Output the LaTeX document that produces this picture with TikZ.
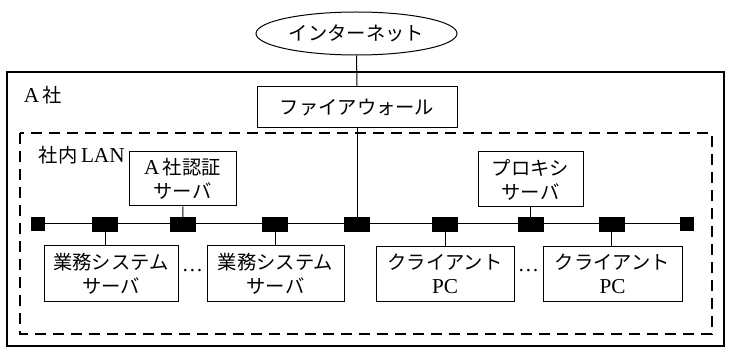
\documentclass[tikz,border=0pt]{standalone}
\usepackage{fontspec}
\setmainfont{Liberation Serif}[Scale=1.1]
\newfontfamily\jp{Noto Sans CJK JP}
\usetikzlibrary{shapes.geometric}
\begin{document}
\begin{tikzpicture}[x=1pt,y=-1pt,
  txt/.style={font=\fontsize{19.3}{24}\selectfont},
  box/.style={txt, draw, line width=1pt, inner sep=0pt, align=center, anchor=center},
  sw/.style={draw=black, fill=black, inner sep=0pt, minimum width=25pt, minimum height=14pt},
  swend/.style={draw=black, fill=black, inner sep=0pt, minimum width=13pt, minimum height=13pt},
  link/.style={line width=1pt}]
\useasboundingbox (0,0) rectangle (731,358);
% frames
\draw[line width=1.1pt] (7,72) rectangle (724,346);
\draw[line width=1.1pt, dash pattern=on 11pt off 7pt] (20,133) rectangle (712,334);
\node[txt, anchor=west] (lA) at (20,95) {A\,{\jp 社}};
\node[txt, anchor=west] (lL) at (35,155) {{\jp 社内}\,LAN};
% internet + firewall
\node[draw, line width=1pt, ellipse, minimum width=201pt, minimum height=43pt, inner sep=0pt, txt] (inet) at (356.5,33.5) {\jp インターネット};
\node[box, minimum width=200pt, minimum height=41pt] (fw) at (357,107.5) {\jp ファイアウォール};
% servers above bus
\node[box, minimum width=107pt, minimum height=54pt] (auth) at (182.5,179) {A\,{\jp 社認証}\\{\jp サーバ}};
\node[box, minimum width=105pt, minimum height=55pt] (proxy) at (530.5,179.5) {{\jp プロキシ}\\{\jp サーバ}};
% bus switches
\node[swend] (e1) at (38,224) {};
\node[sw] (s1) at (105,224) {};
\node[sw] (s2) at (183,224) {};
\node[sw] (s3) at (275,224) {};
\node[sw] (s4) at (357,224) {};
\node[sw] (s5) at (445,224) {};
\node[sw] (s6) at (530.5,224) {};
\node[sw] (s7) at (611.5,224) {};
\node[swend] (e2) at (687,224) {};
% lower boxes
\node[box, minimum width=134pt, minimum height=55pt] (g1) at (111,273.5) {{\jp 業務システム}\\{\jp サーバ}};
\node[box, minimum width=137pt, minimum height=55pt] (g2) at (275.5,273.5) {{\jp 業務システム}\\{\jp サーバ}};
\node[box, minimum width=138pt, minimum height=54pt] (c1) at (445,274) {{\jp クライアント}\\PC};
\node[box, minimum width=139pt, minimum height=54pt] (c2) at (612.5,274) {{\jp クライアント}\\PC};
\node[txt] (d1) at (192.5,271) {…};
\node[txt] (d2) at (528.5,271) {…};
% connectors
\draw[link] (e1) -- (s1) -- (s2) -- (s3) -- (s4) -- (s5) -- (s6) -- (s7) -- (e2);
\draw[link] (inet) -- (fw);
\draw[link] (fw) -- (s4);
\draw[link] (auth) -- (s2);
\draw[link] (proxy) -- (s6);
\draw[link] (s1) -- (s1 |- g1.north);
\draw[link] (s3) -- (s3 |- g2.north);
\draw[link] (s5) -- (s5 |- c1.north);
\draw[link] (s7) -- (s7 |- c2.north);
\end{tikzpicture}
\end{document}
